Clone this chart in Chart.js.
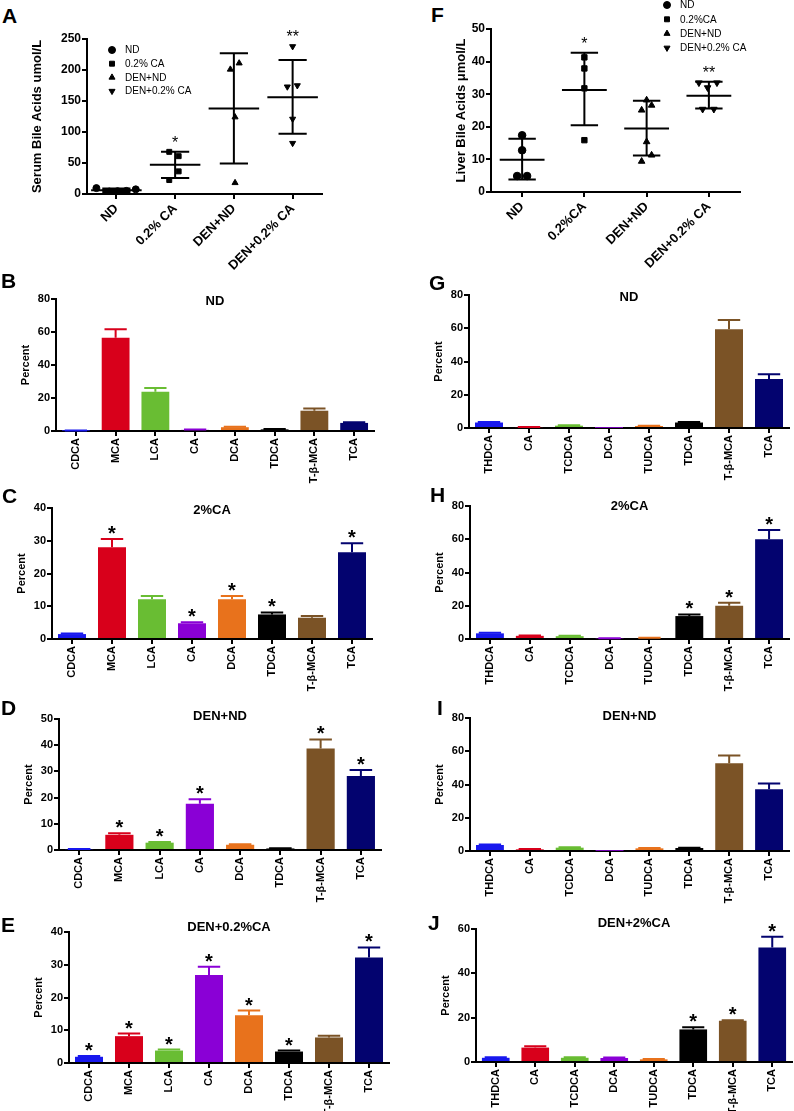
<!DOCTYPE html>
<html>
<head>
<meta charset="utf-8">
<script src="https://cdn.jsdelivr.net/npm/chart.js@4.4.0/dist/chart.umd.min.js"></script>
<style>
body { margin: 0; background: #fff; }
#page { position: relative; width: 794px; height: 1111px; overflow: hidden; background: #fff; }
canvas { position: absolute; }
.letter { position: absolute; font: bold 21px "Liberation Sans", Arial, sans-serif; line-height: 1; color: #000; }
</style>
</head>
<body>
<div id="page"></div>
<script>
// ---- data: serum / liver totals (A, F) ----
const serumGroups = ["ND", "0.2% CA", "DEN+ND", "DEN+0.2% CA"];
const liverGroups = ["ND", "0.2%CA", "DEN+ND", "DEN+0.2% CA"];
const serumLegend = ["ND", "0.2% CA", "DEN+ND", "DEN+0.2% CA"];
const liverLegend = ["ND", "0.2%CA", "DEN+ND", "DEN+0.2% CA"];

const serumValues = [
    [9.5, 4, 4.5, 5, 7.5],
    [68, 61, 36.5, 22.5],
    [201, 211, 124, 18],
    [238, 173, 175, 121, 82]
];
const serumJitter = [
    [-0.34, -0.12, 0.02, 0.17, 0.33],
    [-0.1, 0.06, 0.06, -0.1],
    [-0.06, 0.09, 0.02, 0.02],
    [0, -0.09, 0.08, 0, 0]
];
const serumMean = [6, 47, 138, 156];
const serumSdLow = [3, 26, 49, 97];
const serumSdHigh = [9, 68, 227, 216];
const serumStars = ["", "*", "", "**"];

const liverValues = [
    [17.4, 12.8, 4.9, 4.9],
    [41.3, 37.9, 31.8, 15.9],
    [28.2, 25.1, 26.6, 15.4, 9.4, 11.3],
    [33.5, 33.5, 32, 25.4, 25.4]
];
const liverJitter = [
    [0, 0, -0.08, 0.08],
    [0, 0, 0, 0],
    [0, -0.08, 0.08, 0, -0.08, 0.08],
    [-0.16, 0.13, -0.02, -0.1, 0.08]
];
const liverMean = [9.9, 31.3, 19.5, 29.5];
const liverSdLow = [3.8, 20.5, 11.2, 25.6];
const liverSdHigh = [16.3, 42.7, 28, 33.8];
const liverStars = ["", "*", "", "**"];

// ---- data: bile acid composition (B-E serum, G-J liver) ----
const acidsLeft = ["CDCA", "MCA", "LCA", "CA", "DCA", "TDCA", "T-β-MCA", "TCA"];
const acidsRight = ["THDCA", "CA", "TCDCA", "DCA", "TUDCA", "TDCA", "T-β-MCA", "TCA"];

const serumNdPct = [0.2, 56.5, 23.8, 0.7, 2.3, 1.0, 12.3, 4.9];
const serumNdErr = [0.3, 61.6, 26.0, 0.9, 2.6, 1.2, 13.6, 5.3];
const serumNdStar = ["", "", "", "", "", "", "", ""];

const serumCaPct = [1.5, 28.0, 12.1, 4.8, 12.1, 7.5, 6.5, 26.5];
const serumCaErr = [1.7, 30.5, 13.1, 5.1, 13.1, 8.1, 7.0, 29.2];
const serumCaStar = ["", "*", "", "*", "*", "*", "", "*"];

const serumDenNdPct = [0.3, 5.8, 2.8, 17.7, 2.0, 0.6, 38.7, 28.2];
const serumDenNdErr = [0.4, 6.4, 3.1, 19.4, 2.2, 0.7, 42.2, 30.5];
const serumDenNdStar = ["", "*", "*", "*", "", "", "*", "*"];

const serumDenCaPct = [1.9, 8.2, 3.8, 26.9, 14.6, 3.5, 7.8, 32.2];
const serumDenCaErr = [2.1, 9.0, 4.1, 29.4, 16.0, 3.8, 8.3, 35.3];
const serumDenCaStar = ["*", "*", "*", "*", "*", "*", "", "*"];

const liverNdPct = [3.3, 0.5, 1.4, 0.1, 1.2, 3.3, 59.4, 29.5];
const liverNdErr = [3.6, 0.6, 1.6, 0.1, 1.4, 3.6, 65.0, 32.3];
const liverNdStar = ["", "", "", "", "", "", "", ""];

const liverCaPct = [3.4, 1.9, 1.7, 0.4, 0.6, 13.8, 20.0, 60.0];
const liverCaErr = [3.7, 2.1, 1.9, 0.5, 0.7, 14.8, 21.8, 65.5];
const liverCaStar = ["", "", "", "", "", "*", "*", "*"];

const liverDenNdPct = [3.6, 1.0, 2.0, 0.1, 1.6, 1.8, 52.8, 37.1];
const liverDenNdErr = [3.9, 1.2, 2.2, 0.1, 1.8, 2.0, 57.5, 40.6];
const liverDenNdStar = ["", "", "", "", "", "", "", ""];

const liverDenCaPct = [1.9, 6.5, 1.9, 1.8, 1.2, 14.7, 18.6, 51.6];
const liverDenCaErr = [2.1, 7.1, 2.1, 2.0, 1.4, 15.7, 18.8, 56.5];
const liverDenCaStar = ["", "", "", "", "", "*", "*", "*"];

// ---- styles ----
const FONT = '"Liberation Sans", Arial, Helvetica, sans-serif';
const barColours = ["#1818ee", "#d8001b", "#69bd33", "#8a00d6", "#e8721c", "#000000", "#7b5326", "#03036f"];
const markerStyles = ["circle", "rect", "triangle", "triangle"];
const markerRotation = [0, 0, 0, 180];

Chart.defaults.font.family = FONT;
Chart.defaults.color = "#000";

const page = document.getElementById("page");

function addCanvas(left, top, w, h) {
    const c = document.createElement("canvas");
    c.width = w; c.height = h;
    c.style.left = left + "px"; c.style.top = top + "px";
    c.style.width = w + "px"; c.style.height = h + "px";
    page.appendChild(c);
    return c;
}

function drawMarker(ctx, style, rot, r, x, y) {
    if (Chart.helpers && Chart.helpers.drawPoint) {
        Chart.helpers.drawPoint(ctx, { pointStyle: style, rotation: rot, radius: r, borderWidth: 1 }, x, y);
        return;
    }
    ctx.beginPath();
    if (style === "circle") ctx.arc(x, y, r, 0, Math.PI * 2);
    else if (style === "rect") ctx.rect(x - r * 0.7, y - r * 0.7, r * 1.4, r * 1.4);
    else {
        const s = rot ? -1 : 1;
        ctx.moveTo(x, y - s * r);
        ctx.lineTo(x + r * 0.87, y + s * r / 2);
        ctx.lineTo(x - r * 0.87, y + s * r / 2);
        ctx.closePath();
    }
    ctx.fill();
}

function axisY(max, step, title, tickSize, titleSize, wy) {
    return {
        min: 0, max: max,
        ticks: { stepSize: step, padding: 1, font: { size: tickSize, weight: "bold" }, color: "#000" },
        grid: { drawOnChartArea: false, tickLength: 5, lineWidth: 2, color: "#000" },
        border: { color: "#000", width: 2 },
        title: { display: true, text: title, padding: 0, color: "#000",
                 font: { size: titleSize, weight: "bold", lineHeight: 1.2 } },
        afterFit: s => { s.width = wy; }
    };
}

// error bars, asterisks and the small title of a bar panel
function barDecor(p) {
    return {
        id: "barDecor" + p.tag,
        afterDatasetsDraw(chart) {
            const ctx = chart.ctx, y = chart.scales.y, area = chart.chartArea;
            const bars = chart.getDatasetMeta(0).data;
            ctx.save();
            bars.forEach((bar, i) => {
                const top = y.getPixelForValue(Math.max(p.err[i], p.values[i]));
                if (p.err[i] > p.values[i]) {
                    const half = bar.width * 0.4;
                    ctx.strokeStyle = barColours[i];
                    ctx.lineWidth = 2;
                    ctx.beginPath();
                    ctx.moveTo(bar.x, bar.y);
                    ctx.lineTo(bar.x, top);
                    ctx.moveTo(bar.x - half, top);
                    ctx.lineTo(bar.x + half, top);
                    ctx.stroke();
                }
                if (p.stars[i]) {
                    ctx.fillStyle = "#000";
                    ctx.font = "bold 20px " + FONT;
                    ctx.textAlign = "center";
                    ctx.textBaseline = "alphabetic";
                    ctx.fillText(p.stars[i], bar.x, top + 1);
                }
            });
            ctx.fillStyle = "#000";
            ctx.font = "bold 13px " + FONT;
            ctx.textAlign = "center";
            ctx.textBaseline = "middle";
            ctx.fillText(p.title, (area.left + area.right) / 2, area.top + p.titleDy);
            ctx.restore();
        }
    };
}

function barChart(p) {
    const Wy = 37, PT = 30, PR = 8, XH = 58;
    const b = p.box;
    const c = addCanvas(b.l - Wy, b.t - PT, Wy + b.r - b.l + PR, PT + b.b - b.t + XH);
    new Chart(c, {
        type: "bar",
        data: {
            labels: p.labels,
            datasets: [{ data: p.values, backgroundColor: barColours, borderWidth: 0,
                         barPercentage: 0.7, categoryPercentage: 1 }]
        },
        options: {
            responsive: false, animation: false, devicePixelRatio: 1,
            layout: { padding: { left: 0, top: PT, right: PR, bottom: 0 } },
            plugins: { legend: { display: false }, tooltip: { enabled: false } },
            scales: {
                x: {
                    ticks: { autoSkip: false, minRotation: 90, maxRotation: 90, padding: 2,
                             font: { size: 11, weight: "bold" }, color: "#000" },
                    grid: { offset: false, drawOnChartArea: false, tickLength: 5, lineWidth: 2, color: "#000" },
                    border: { color: "#000", width: 2 },
                    afterFit: s => { s.height = XH; }
                },
                y: axisY(p.yMax, p.step, "Percent", 11, 11, Wy)
            }
        },
        plugins: [barDecor(p)]
    });
}

// mean / SD lines, asterisks and legend of a dot panel
function dotDecor(p) {
    return {
        id: "dotDecor" + p.tag,
        beforeDatasetsDraw(chart) {
            const ctx = chart.ctx, x = chart.scales.x, y = chart.scales.y;
            ctx.save();
            ctx.strokeStyle = "#000";
            ctx.lineWidth = 2;
            ctx.beginPath();
            p.mean.forEach((m, i) => {
                const cx = x.getPixelForValue(i);
                const ym = y.getPixelForValue(m), yl = y.getPixelForValue(p.sdLow[i]), yh = y.getPixelForValue(p.sdHigh[i]);
                ctx.moveTo(x.getPixelForValue(i - p.meanHalf), ym);
                ctx.lineTo(x.getPixelForValue(i + p.meanHalf), ym);
                ctx.moveTo(cx, yl); ctx.lineTo(cx, yh);
                ctx.moveTo(x.getPixelForValue(i - p.capHalf), yl);
                ctx.lineTo(x.getPixelForValue(i + p.capHalf), yl);
                ctx.moveTo(x.getPixelForValue(i - p.capHalf), yh);
                ctx.lineTo(x.getPixelForValue(i + p.capHalf), yh);
            });
            ctx.stroke();
            ctx.restore();
        },
        afterDatasetsDraw(chart) {
            const ctx = chart.ctx, x = chart.scales.x, y = chart.scales.y, area = chart.chartArea;
            ctx.save();
            ctx.fillStyle = "#000";
            ctx.strokeStyle = "#000";
            ctx.font = "16px " + FONT;
            ctx.textAlign = "center";
            ctx.textBaseline = "alphabetic";
            p.stars.forEach((s, i) => {
                if (!s) return;
                const top = y.getPixelForValue(Math.max(p.sdHigh[i], ...p.values[i]));
                ctx.fillText(s, x.getPixelForValue(i), top - 4);
            });
            ctx.font = "10px " + FONT;
            ctx.textAlign = "left";
            ctx.textBaseline = "middle";
            p.legend.forEach((name, k) => {
                const mx = area.left + p.legX, my = area.top + p.legY + k * p.legGap;
                drawMarker(ctx, markerStyles[k], markerRotation[k], 3.5, mx, my);
                ctx.fillText(name, mx + 13, my + 0.5);
            });
            ctx.restore();
        }
    };
}

function dotChart(p) {
    const b = p.box;
    const c = addCanvas(b.l - p.wy, b.t - p.pt, p.wy + b.r - b.l + p.pr, p.pt + b.b - b.t + p.xh);
    new Chart(c, {
        type: "scatter",
        data: {
            datasets: p.values.map((vals, i) => ({
                data: vals.map((v, k) => ({ x: i + p.jitter[i][k], y: v })),
                pointStyle: markerStyles[i],
                rotation: markerRotation[i],
                pointRadius: p.radius,
                backgroundColor: "#000",
                borderColor: "#000",
                borderWidth: 1
            }))
        },
        options: {
            responsive: false, animation: false, devicePixelRatio: 1,
            layout: { padding: { left: 0, top: p.pt, right: p.pr, bottom: 0 } },
            plugins: { legend: { display: false }, tooltip: { enabled: false } },
            scales: {
                x: {
                    type: "linear", min: -0.5, max: 3.5,
                    afterBuildTicks: s => { s.ticks = p.groups.map((g, i) => ({ value: i })); },
                    ticks: { autoSkip: false, minRotation: 45, maxRotation: 45, padding: 2,
                             font: { size: 13, weight: "bold" }, color: "#000",
                             callback: v => p.groups[v] },
                    grid: { drawOnChartArea: false, tickLength: 5, lineWidth: 2, color: "#000" },
                    border: { color: "#000", width: 2 },
                    afterFit: s => { s.height = p.xh; }
                },
                y: axisY(p.yMax, p.step, p.title, 12, 13, p.wy)
            }
        },
        plugins: [dotDecor(p)]
    });
}

// ---- panels ----
dotChart({
    tag: "A", groups: serumGroups, legend: serumLegend,
    values: serumValues, jitter: serumJitter,
    mean: serumMean, sdLow: serumSdLow, sdHigh: serumSdHigh, stars: serumStars,
    title: "Serum Bile Acids umol/L", yMax: 250, step: 50,
    box: { l: 87, t: 39, r: 322, b: 194 }, wy: 57, pt: 36, pr: 20, xh: 80,
    radius: 3.5, meanHalf: 0.43, capHalf: 0.24,
    legX: 25, legY: 11, legGap: 13.7
});
dotChart({
    tag: "F", groups: liverGroups, legend: liverLegend,
    values: liverValues, jitter: liverJitter,
    mean: liverMean, sdLow: liverSdLow, sdHigh: liverSdHigh, stars: liverStars,
    title: "Liver Bile Acids μmol/L", yMax: 50, step: 10,
    box: { l: 491, t: 29, r: 740, b: 192 }, wy: 37, pt: 29, pr: 54, xh: 80,
    radius: 3.8, meanHalf: 0.36, capHalf: 0.22,
    legX: 176, legY: -24, legGap: 14.3
});

const barPanels = [
    { tag: "B", labels: acidsLeft, values: serumNdPct, err: serumNdErr, stars: serumNdStar,
      title: "ND", yMax: 80, step: 20, box: { l: 56, t: 299, r: 374, b: 431 }, titleDy: 2 },
    { tag: "C", labels: acidsLeft, values: serumCaPct, err: serumCaErr, stars: serumCaStar,
      title: "2%CA", yMax: 40, step: 10, box: { l: 52, t: 508, r: 372, b: 639 }, titleDy: 2 },
    { tag: "D", labels: acidsLeft, values: serumDenNdPct, err: serumDenNdErr, stars: serumDenNdStar,
      title: "DEN+ND", yMax: 50, step: 10, box: { l: 59, t: 719, r: 381, b: 850 }, titleDy: -3 },
    { tag: "E", labels: acidsLeft, values: serumDenCaPct, err: serumDenCaErr, stars: serumDenCaStar,
      title: "DEN+0.2%CA", yMax: 40, step: 10, box: { l: 69, t: 932, r: 389, b: 1063 }, titleDy: -5 },
    { tag: "G", labels: acidsRight, values: liverNdPct, err: liverNdErr, stars: liverNdStar,
      title: "ND", yMax: 80, step: 20, box: { l: 469, t: 295, r: 789, b: 428 }, titleDy: 2 },
    { tag: "H", labels: acidsRight, values: liverCaPct, err: liverCaErr, stars: liverCaStar,
      title: "2%CA", yMax: 80, step: 20, box: { l: 470, t: 506, r: 789, b: 639 }, titleDy: 0 },
    { tag: "I", labels: acidsRight, values: liverDenNdPct, err: liverDenNdErr, stars: liverDenNdStar,
      title: "DEN+ND", yMax: 80, step: 20, box: { l: 470, t: 718, r: 789, b: 851 }, titleDy: -2 },
    { tag: "J", labels: acidsRight, values: liverDenCaPct, err: liverDenCaErr, stars: liverDenCaStar,
      title: "DEN+2%CA", yMax: 60, step: 20, box: { l: 476, t: 929, r: 792, b: 1062 }, titleDy: -6 }
];
barPanels.forEach(barChart);

// panel letters
const letters = [
    { text: "A", x: 2, y: 5 }, { text: "B", x: 1, y: 270 }, { text: "C", x: 2, y: 485 },
    { text: "D", x: 1, y: 697 }, { text: "E", x: 1, y: 914 },
    { text: "F", x: 431, y: 4 }, { text: "G", x: 429, y: 272 }, { text: "H", x: 430, y: 484 },
    { text: "I", x: 437, y: 697 }, { text: "J", x: 428, y: 912 }
];
letters.forEach(l => {
    const d = document.createElement("div");
    d.className = "letter";
    d.textContent = l.text;
    d.style.left = l.x + "px";
    d.style.top = l.y + "px";
    page.appendChild(d);
});
</script>
</body>
</html>
